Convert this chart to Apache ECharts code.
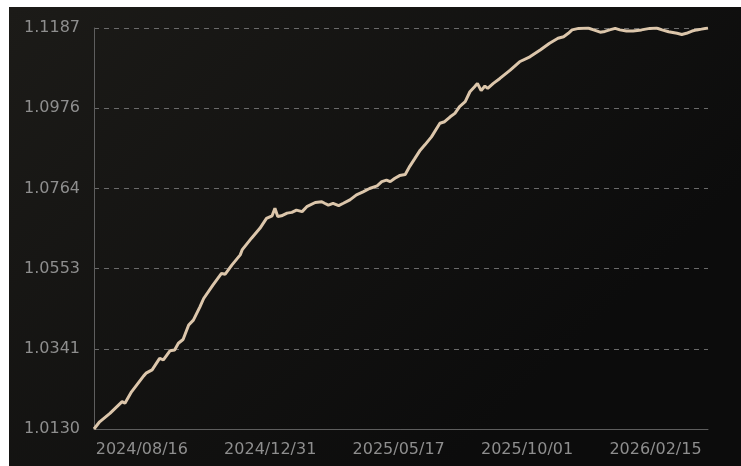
<!DOCTYPE html>
<html>
<head>
<meta charset="utf-8">
<script src="https://cdn.jsdelivr.net/npm/echarts@6/dist/echarts.min.js"></script>
<style>
  html, body { margin: 0; padding: 0; background: #ffffff; }
  #navChart { position: absolute; left: 9px; top: 7px; width: 732px; height: 459px; }
</style>
</head>
<body>
<div id="navChart"></div>
<script>
'use strict';

/** 单位净值走势 */
var firstDay = '2024/06/26';
var lastDay = '2026/04/12';
var labelDates = ['2024/08/16', '2024/12/31', '2025/05/17', '2025/10/01', '2026/02/15'];
var yTicks = [1.0130, 1.0341, 1.0553, 1.0764, 1.0976, 1.1187];

// 读图得到的净值点
var navDates = [
    '2024/06/26', '2024/07/02', '2024/07/13', '2024/07/26', '2024/07/29', '2024/08/05',
    '2024/08/18', '2024/08/21', '2024/08/27', '2024/09/04', '2024/09/08', '2024/09/15',
    '2024/09/20', '2024/09/24', '2024/09/29', '2024/10/05', '2024/10/10', '2024/10/17',
    '2024/10/21', '2024/10/31', '2024/11/09', '2024/11/13', '2024/11/20', '2024/11/29',
    '2024/12/01', '2024/12/11', '2024/12/20', '2024/12/27', '2025/01/02', '2025/01/05',
    '2025/01/08', '2025/01/12', '2025/01/18', '2025/01/23', '2025/01/28', '2025/02/03',
    '2025/02/08', '2025/02/17', '2025/02/24', '2025/02/27', '2025/03/03', '2025/03/08',
    '2025/03/14', '2025/03/19', '2025/03/26', '2025/04/02', '2025/04/09', '2025/04/16',
    '2025/04/24', '2025/04/29', '2025/05/04', '2025/05/08', '2025/05/13', '2025/05/18',
    '2025/05/24', '2025/05/29', '2025/06/03', '2025/06/09', '2025/06/14', '2025/06/21',
    '2025/06/30', '2025/07/05', '2025/07/11', '2025/07/16', '2025/07/21', '2025/07/27',
    '2025/08/01', '2025/08/06', '2025/08/09', '2025/08/13', '2025/08/17', '2025/08/20',
    '2025/08/26', '2025/09/02', '2025/09/13', '2025/09/23', '2025/10/04', '2025/10/15',
    '2025/10/25', '2025/11/03', '2025/11/09', '2025/11/14', '2025/11/18', '2025/11/25',
    '2025/12/05', '2025/12/11', '2025/12/18', '2025/12/23', '2025/12/28', '2026/01/03',
    '2026/01/08', '2026/01/15', '2026/01/22', '2026/01/31', '2026/02/09', '2026/02/16',
    '2026/02/22', '2026/03/01', '2026/03/10', '2026/03/15', '2026/03/20', '2026/03/26',
    '2026/03/31', '2026/04/05', '2026/04/12'
];
var navValues = [
    1.0130, 1.0149, 1.0171, 1.0202, 1.0198, 1.0228,
    1.0270, 1.0278, 1.0286, 1.0316, 1.0312, 1.0336,
    1.0338, 1.0356, 1.0366, 1.0404, 1.0417, 1.0452,
    1.0474, 1.0510, 1.0540, 1.0538, 1.0562, 1.0589,
    1.0602, 1.0633, 1.0659, 1.0685, 1.0692, 1.0712,
    1.0690, 1.0692, 1.0699, 1.0701, 1.0707, 1.0703,
    1.0716, 1.0727, 1.0729, 1.0725, 1.0720, 1.0725,
    1.0719, 1.0725, 1.0734, 1.0747, 1.0755, 1.0764,
    1.0771, 1.0782, 1.0786, 1.0782, 1.0791, 1.0798,
    1.0801, 1.0823, 1.0842, 1.0865, 1.0879, 1.0900,
    1.0936, 1.0940, 1.0953, 1.0962, 1.0980, 1.0993,
    1.1019, 1.1032, 1.1041, 1.1022, 1.1034, 1.1028,
    1.1041, 1.1054, 1.1076, 1.1098, 1.1111, 1.1129,
    1.1147, 1.1160, 1.1164, 1.1173, 1.1182, 1.1186,
    1.1187, 1.1182, 1.1176, 1.1178, 1.1182, 1.1186,
    1.1182, 1.1179, 1.1179, 1.1182, 1.1186, 1.1187,
    1.1182, 1.1177, 1.1173, 1.1170, 1.1173, 1.1179,
    1.1182, 1.1184, 1.1187
];

function pad(n) {
    return n < 10 ? '0' + n : '' + n;
}
// 横轴: 每个自然日一个类目
var dayList = [];
var d = new Date(firstDay.replace(/\//g, '-') + 'T00:00:00Z');
var end = new Date(lastDay.replace(/\//g, '-') + 'T00:00:00Z');
while (d <= end) {
    dayList.push(d.getUTCFullYear() + '/' + pad(d.getUTCMonth() + 1) + '/' + pad(d.getUTCDate()));
    d = new Date(d.getTime() + 86400000);
}

var lineData = navDates.map(function (t, i) {
    return [t, navValues[i]];
});

var navChart = echarts.init(document.getElementById('navChart'));
var option = {
    backgroundColor: {
        type: 'linear',
        x: 0, y: 0, x2: 0.6, y2: 1,
        colorStops: [
            { offset: 0, color: '#1c1b18' },
            { offset: 1, color: '#0c0c0c' }
        ]
    },
    animation: false,
    grid: {
        left: 85,
        top: 21,
        width: 614,
        height: 401
    },
    xAxis: {
        type: 'category',
        boundaryGap: false,
        data: dayList,
        axisLine: { lineStyle: { color: '#5e5e5e', width: 1 } },
        axisTick: { show: false },
        axisLabel: {
            interval: function (index, value) {
                return labelDates.indexOf(value) >= 0;
            },
            color: '#8e8e8e',
            fontSize: 16,
            fontFamily: 'DejaVu Sans',
            margin: 13
        },
        splitLine: { show: false }
    },
    yAxis: {
        type: 'value',
        min: yTicks[0],
        max: yTicks[yTicks.length - 1],
        interval: (yTicks[yTicks.length - 1] - yTicks[0]) / (yTicks.length - 1),
        axisLine: { show: true, lineStyle: { color: '#5e5e5e', width: 1 } },
        axisTick: { show: false },
        axisLabel: {
            color: '#8e8e8e',
            fontSize: 16,
            fontFamily: 'DejaVu Sans',
            margin: 14,
            formatter: function (v) {
                return v.toFixed(4);
            }
        },
        splitLine: {
            show: true,
            lineStyle: { color: '#6a6a6a', type: [5, 5], width: 1 }
        }
    },
    series: [{
        name: '单位净值',
        type: 'line',
        data: lineData,
        symbol: 'none',
        smooth: false,
        lineStyle: { color: '#dcc6ab', width: 3 }
    }]
};
navChart.setOption(option);
</script>
</body>
</html>
